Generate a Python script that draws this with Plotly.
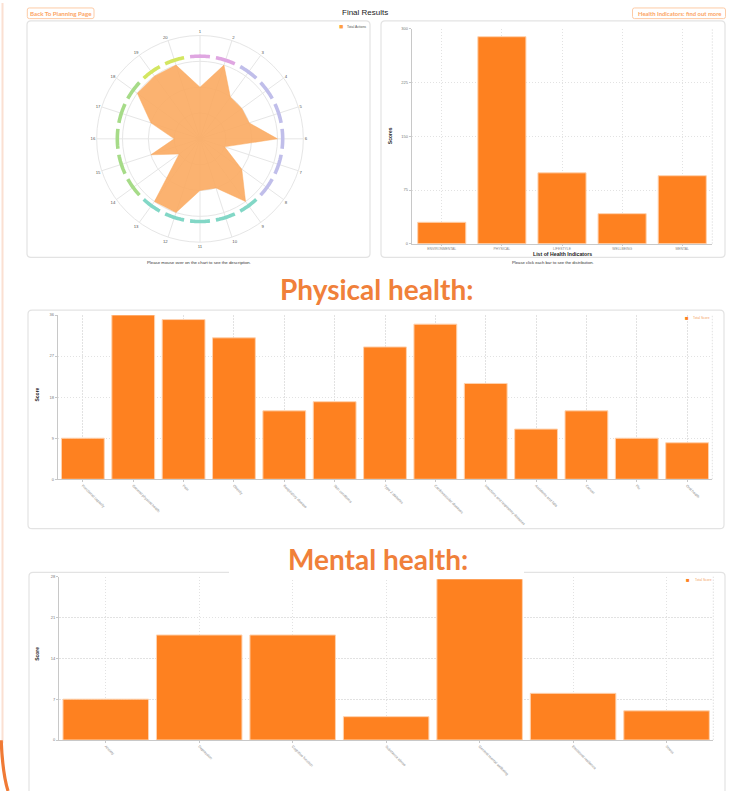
import plotly.graph_objects as go

W, H = 738, 791

def X(px):
    return px / W

def Y(py):
    return 1 - py / H

# ---------------- data ----------------
radar_labels = [str(i) for i in range(1, 21)]
radar_values = [2, 3, 2, 2, 2, 3, 1, 2, 3, 2, 2, 3, 3, 1, 2, 1, 2, 3, 3, 3]
radar_groups = [0, 0, 1, 1, 1, 1, 1, 1, 2, 2, 2, 2, 2, 3, 3, 3, 3, 3, 4, 4]
group_colors = ["#DFA6E1", "#C0BEEA", "#82D7C6", "#A6DB88", "#D3E661"]

indicators = ["ENVIRONMENTAL", "PHYSICAL", "LIFESTYLE", "WELLBEING", "MENTAL"]
indicator_scores = [30, 289, 99, 42, 95]

physical_labels = ["Functional capacity", "General physical health", "Pain", "Obesity",
                   "Respiratory disease", "Skin conditions", "Type 2 diabetes",
                   "Cardiovascular diseases", "Infections and respiratory diseases",
                   "Accidents and falls", "Cancer", "Flu", "Oral health"]
physical_scores = [9, 36, 35, 31, 15, 17, 29, 34, 21, 11, 15, 9, 8]

mental_labels = ["Anxiety", "Depression", "Cognitive function", "Substance abuse",
                 "General mental wellbeing", "Emotional resilience", "Stress"]
mental_scores = [7, 18, 18, 4, 28, 8, 5]

BAR = "#FE8120"
BAR_EDGE = "#FFD2AE"
ORANGE_TXT = "#F0803A"
GRIDDASH = "1.5px,1.5px"

fig = go.Figure()

# ---------------- radar ----------------
step = 360 / len(radar_labels)
theta = [i * step for i in range(len(radar_labels))]
fig.add_trace(go.Scatterpolar(
    r=radar_values + [radar_values[0]], theta=theta + [theta[0]],
    mode="lines", fill="toself", fillcolor="rgba(251,170,96,0.9)",
    line=dict(color="rgba(251,170,96,0.9)", width=0.5),
    showlegend=False, hoverinfo="skip"))

half = 6.9
for g, col in enumerate(group_colors):
    rr, tt = [], []
    for i, grp in enumerate(radar_groups):
        if grp != g:
            continue
        n = 12
        for j in range(n + 1):
            tt.append(theta[i] - half + 2 * half * j / n)
            rr.append(3.2)
        tt.append(None)
        rr.append(None)
    fig.add_trace(go.Scatterpolar(r=rr, theta=tt, mode="lines",
                                  line=dict(color=col, width=3.6),
                                  connectgaps=False, showlegend=False, hoverinfo="skip"))

# ---------------- bars ----------------
fig.add_trace(go.Bar(x=indicators, y=indicator_scores, xaxis="x", yaxis="y",
                     marker=dict(color=BAR, line=dict(color=BAR_EDGE, width=1)),
                     width=0.8, showlegend=False))
fig.add_trace(go.Bar(x=physical_labels, y=physical_scores, xaxis="x2", yaxis="y2",
                     marker=dict(color=BAR, line=dict(color=BAR_EDGE, width=1)),
                     width=0.85, showlegend=False))
fig.add_trace(go.Bar(x=mental_labels, y=mental_scores, xaxis="x3", yaxis="y3",
                     marker=dict(color=BAR, line=dict(color=BAR_EDGE, width=1)),
                     width=0.915, showlegend=False))

def xax(x0, x1, anchor, angle, tl=2, fs=3.6):
    return dict(domain=[X(x0), X(x1)], anchor=anchor, showline=True, linecolor="#c8c8c8",
                linewidth=1, ticks="outside", ticklen=tl, tickcolor="#c8c8c8",
                showgrid=True, gridcolor="#e2e2e2", griddash=GRIDDASH, zeroline=False,
                tickfont=dict(size=fs, color="#888", family="Liberation Sans"),
                tickangle=angle, fixedrange=True)

def yax(y0, y1, anchor, top, dt):
    return dict(domain=[Y(y1), Y(y0)], anchor=anchor, range=[0, top], dtick=dt,
                showline=True, linecolor="#c8c8c8", linewidth=1, ticks="outside",
                ticklen=2, tickcolor="#c8c8c8", showgrid=True, gridcolor="#e2e2e2",
                griddash=GRIDDASH, zeroline=False,
                tickfont=dict(size=4, color="#777", family="Liberation Sans"),
                fixedrange=True)

shapes = []

def rrect(x0, y0, x1, y1, r=4, color="#e3e3e3", fill="rgba(0,0,0,0)", layer="below", w=1.2):
    p = (f"M {X(x0+r)},{Y(y0)} L {X(x1-r)},{Y(y0)} Q {X(x1)},{Y(y0)} {X(x1)},{Y(y0+r)} "
         f"L {X(x1)},{Y(y1-r)} Q {X(x1)},{Y(y1)} {X(x1-r)},{Y(y1)} "
         f"L {X(x0+r)},{Y(y1)} Q {X(x0)},{Y(y1)} {X(x0)},{Y(y1-r)} "
         f"L {X(x0)},{Y(y0+r)} Q {X(x0)},{Y(y0)} {X(x0+r)},{Y(y0)} Z")
    shapes.append(dict(type="path", path=p, xref="paper", yref="paper",
                       line=dict(color=color, width=w), fillcolor=fill, layer=layer))

# cards
rrect(27, 18, 370, 256)
rrect(381, 18, 725, 256)
rrect(28, 309, 724, 529)
rrect(29, 573, 725, 805)
# buttons
rrect(27.3, 5, 94, 15.7, r=2, color="#FDCBA6", w=1)
rrect(632.5, 5, 725.5, 15.7, r=2, color="#FDCBA6", w=1)

# right dotted edges of bar plots
for xr, yr in [("x", "y"), ("x2", "y2"), ("x3", "y3")]:
    shapes.append(dict(type="line", xref=f"{xr} domain", yref=f"{yr} domain",
                       x0=1, x1=1, y0=0, y1=1,
                       line=dict(color="#e2e2e2", width=1, dash=GRIDDASH), layer="below"))

# white box behind Mental health heading
shapes.append(dict(type="rect", xref="paper", yref="paper", x0=X(229), x1=X(524),
                   y0=Y(580), y1=Y(538), fillcolor="white", line=dict(width=0),
                   layer="above"))

# left page border
shapes.append(dict(type="path", xref="paper", yref="paper",
                   path=f"M {X(2.5)},{Y(0)} L {X(2.5)},{Y(745)}",
                   line=dict(color="#FBE0D2", width=2)))
shapes.append(dict(type="path", xref="paper", yref="paper",
                   path=f"M {X(1.2)},{Y(742)} Q {X(2.5)},{Y(775)} {X(8)},{Y(793)}",
                   line=dict(color="#F07A35", width=3.2)))

ann = []

def text(x, y, s, size, color="#333", bold=False, family="Liberation Sans",
         xanchor="center", angle=0):
    ann.append(dict(x=X(x), y=Y(y), xref="paper", yref="paper", showarrow=False,
                    text=f"<b>{s}</b>" if bold else s, xanchor=xanchor, yanchor="middle",
                    textangle=angle, font=dict(size=size, color=color, family=family)))

text(365, 9.3, "Final Results", 8, "#222", family="Liberation Sans")
text(60.6, 10.4, "Back To Planning Page", 6.2, "#FCA464", bold=True, family="Lato")
text(679, 10.4, "Health Indicators: find out more", 5.9, "#FCA464", bold=True, family="Lato")

text(199, 260.7, "Please mouse over on the chart to see the description.", 4.3, "#333")
text(553, 260.8, "Please click each bar to see the distribution.", 4.2, "#333")
text(562, 252.2, "List of Health Indicators", 5.2, "#222", bold=True)
text(390, 134, "Scores", 5, "#222", bold=True, angle=-90)
text(37, 394, "Score", 5, "#222", bold=True, angle=-90)
text(37, 655, "Score", 5, "#222", bold=True, angle=-90)

# legends
text(340.5, 23.8, "■", 7, "#FFA040")
text(345, 23.8, "Total Actions", 3.4, "#555", xanchor="left")
text(686.6, 317.5, "■", 6, BAR)
text(691, 317.5, "Total Score", 3.3, "#F5A060", xanchor="left")
text(688.3, 580.8, "■", 6, BAR)
text(692.5, 580.8, "Total Score", 3.3, "#F5A060", xanchor="left")

# headings
text(377, 288, "Physical health:", 28, ORANGE_TXT, bold=True, family="Lato")
text(377.5, 559.5, "Mental health:", 28, ORANGE_TXT, bold=True, family="Lato")

fig.update_layout(
    width=W, height=H, margin=dict(l=0, r=0, t=0, b=0),
    paper_bgcolor="white", plot_bgcolor="white", showlegend=False,
    polar=dict(
        domain=dict(x=[X(96), X(304)], y=[Y(240.7), Y(32.7)]),
        bgcolor="rgba(0,0,0,0)",
        radialaxis=dict(range=[0, 4], tickvals=[1, 2, 3, 4], showticklabels=False,
                        ticks="", showline=False, gridcolor="#e6e6e6", gridwidth=1),
        angularaxis=dict(type="linear", thetaunit="degrees", direction="clockwise",
                         rotation=90, tickmode="array", tickvals=theta,
                         ticktext=radar_labels, ticks="", gridcolor="#e6e6e6",
                         linecolor="#e6e6e6", showline=True,
                         tickfont=dict(size=4.3, color="#555", family="Liberation Sans")),
    ),
    xaxis=xax(411.7, 712.3, "y", 0, tl=1, fs=3.4),
    yaxis=yax(26, 242.3, "x", 300, 75),
    xaxis2=xax(57.7, 712.3, "y2", 45),
    yaxis2=yax(314, 479.3, "x2", 36, 9),
    xaxis3=xax(59, 713.3, "y3", 45),
    yaxis3=yax(577.3, 741.7, "x3", 28, 7),
    shapes=shapes, annotations=ann, bargap=0.2,
)

fig.write_html("out.html", config={"displayModeBar": False},
               post_script="document.body.style.margin='0';document.body.style.padding='0';")
